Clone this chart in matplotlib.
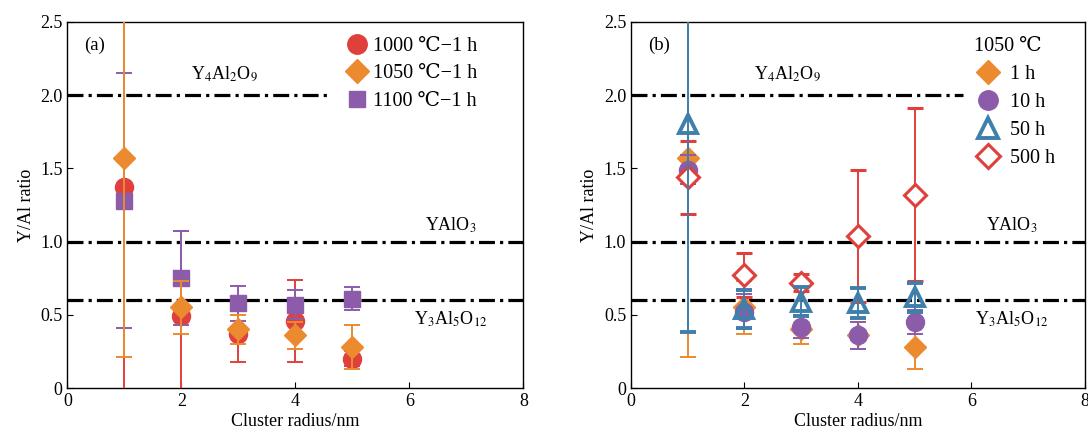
import matplotlib
matplotlib.use("Agg")
import matplotlib.pyplot as plt
from matplotlib.lines import Line2D

plt.rcParams['font.family'] = ['Liberation Serif', 'DejaVu Serif']
plt.rcParams['mathtext.fontset'] = 'stix'

# ---------- data ----------
radius = [1, 2, 3, 4, 5]

# panel (a)
a_1000 = [1.37, 0.49, 0.37, 0.46, 0.20]
a_1000_err = [1.45, 0.58, 0.19, 0.28, 0.05]
a_1050 = [1.57, 0.55, 0.40, 0.36, 0.28]
a_1050_err = [1.36, 0.18, 0.10, 0.09, 0.15]
a_1100 = [1.28, 0.75, 0.58, 0.57, 0.61]
a_1100_err = [0.87, 0.32, 0.12, 0.10, 0.08]
a_labels = ['1000 ℃−1 h', '1050 ℃−1 h', '1100 ℃−1 h']

# panel (b)
b_1h = [1.57, 0.55, 0.40, 0.36, 0.28]
b_1h_err = [1.36, 0.18, 0.10, 0.09, 0.15]
b_10h = [1.49, 0.52, 0.42, 0.36, 0.45]
b_10h_err = [0.10, 0.12, 0.08, 0.09, 0.08]
b_50h = [1.80, 0.54, 0.59, 0.58, 0.62]
b_50h_err = [1.42, 0.13, 0.10, 0.10, 0.10]
b_500h = [1.44, 0.77, 0.72, 1.04, 1.32]
b_500h_err = [0.25, 0.15, 0.06, 0.45, 0.59]
b_labels = ['1 h', '10 h', '50 h', '500 h']
b_title = '1050 ℃'

phase_y = [2.0, 1.0, 0.6]
phase_names = ['Y$_4$Al$_2$O$_9$', 'YAlO$_3$', 'Y$_3$Al$_5$O$_{12}$']

RED = '#e0403c'
ORANGE = '#ec8a30'
PURPLE = '#8c5cab'
BLUE = '#3f7fab'

fig = plt.figure(figsize=(10.88, 4.37), dpi=100)
axa = fig.add_axes([0.062, 0.112, 0.419, 0.838])
axb = fig.add_axes([0.580, 0.112, 0.417, 0.838])

def style(ax, letter, y4_end):
    ax.set_xlim(0, 8)
    ax.set_ylim(0, 2.5)
    ax.set_xticks([0, 2, 4, 6, 8])
    ax.set_xticklabels(['0', '2', '4', '6', '8'])
    ax.set_yticks([0, 0.5, 1.0, 1.5, 2.0, 2.5])
    ax.set_yticklabels(['0', '0.5', '1.0', '1.5', '2.0', '2.5'])
    ax.tick_params(direction='in', labelsize=13, length=4, top=False, right=False)
    ax.set_xlabel('Cluster radius/nm', fontsize=13, labelpad=2)
    ax.set_ylabel('Y/Al ratio', fontsize=13, labelpad=4)
    for s in ax.spines.values():
        s.set_linewidth(1.0)
    ax.text(0.3, 2.34, letter, fontsize=13.5, va='center', ha='left')
    ax.plot([0, y4_end], [phase_y[0], phase_y[0]], color='black', lw=2.3,
            ls=(0, (5, 1.6, 1, 1.6)), zorder=1)
    for yv in phase_y[1:]:
        ax.axhline(yv, color='black', lw=2.3, ls=(0, (5, 1.6, 1, 1.6)), zorder=1)
    ax.text(2.75, 2.15, phase_names[0], fontsize=13, ha='center', va='center')
    ax.text(6.72, 1.11, phase_names[1], fontsize=13, ha='center', va='center')
    ax.text(6.72, 0.47, phase_names[2], fontsize=13, ha='center', va='center')

style(axa, '(a)', 4.55)
style(axb, '(b)', 5.85)

eb = dict(elinewidth=1.4, capsize=6, capthick=1.4, ls='none')

# panel (a)
axa.errorbar(radius, a_1000, yerr=a_1000_err, color=RED, marker='o', ms=13, mec=RED, zorder=3, **eb)
axa.errorbar(radius, a_1100, yerr=a_1100_err, color=PURPLE, marker='s', ms=11, mec=PURPLE, zorder=4, **eb)
axa.errorbar(radius, a_1050, yerr=a_1050_err, color=ORANGE, marker='D', ms=11, mec=ORANGE, zorder=5, **eb)

ha = [Line2D([], [], color=RED, marker='o', ms=14, ls='none'),
      Line2D([], [], color=ORANGE, marker='D', ms=12, ls='none'),
      Line2D([], [], color=PURPLE, marker='s', ms=12, ls='none')]
axa.legend(ha, a_labels, loc='upper left', bbox_to_anchor=(0.605, 0.96), frameon=False,
           fontsize=14.5, handletextpad=0.1, labelspacing=0.42, borderaxespad=0.0,
           borderpad=0.0, handlelength=1.4)

# panel (b)
axb.errorbar(radius, b_1h, yerr=b_1h_err, color=ORANGE, marker='D', ms=11, mec=ORANGE, zorder=3, **eb)
axb.errorbar(radius, b_10h, yerr=b_10h_err, color=PURPLE, marker='o', ms=13, mec=PURPLE, zorder=4, **eb)
axb.errorbar(radius, b_500h, yerr=b_500h_err, color=RED, marker='D', ms=11, mfc='white',
             mec=RED, mew=2.2, zorder=5, **eb)
axb.errorbar(radius, b_50h, yerr=b_50h_err, color=BLUE, marker='^', ms=13, mfc='none',
             mec=BLUE, mew=2.8, zorder=6, **eb)

hb = [Line2D([], [], color=ORANGE, marker='D', ms=12, ls='none'),
      Line2D([], [], color=PURPLE, marker='o', ms=14, ls='none'),
      Line2D([], [], color=BLUE, marker='^', ms=14, mfc='none', mew=2.8, ls='none'),
      Line2D([], [], color=RED, marker='D', ms=12, mfc='white', mew=2.2, ls='none')]
lg = axb.legend(hb, b_labels, loc='upper left', bbox_to_anchor=(0.755, 0.96), frameon=False,
                fontsize=14.5, title=b_title, title_fontsize=14.5, handletextpad=0.4,
                labelspacing=0.45, borderaxespad=0.0, borderpad=0.0, handlelength=1.4)
lg._legend_box.align = 'left'

fig.savefig('out.png', dpi=100)
